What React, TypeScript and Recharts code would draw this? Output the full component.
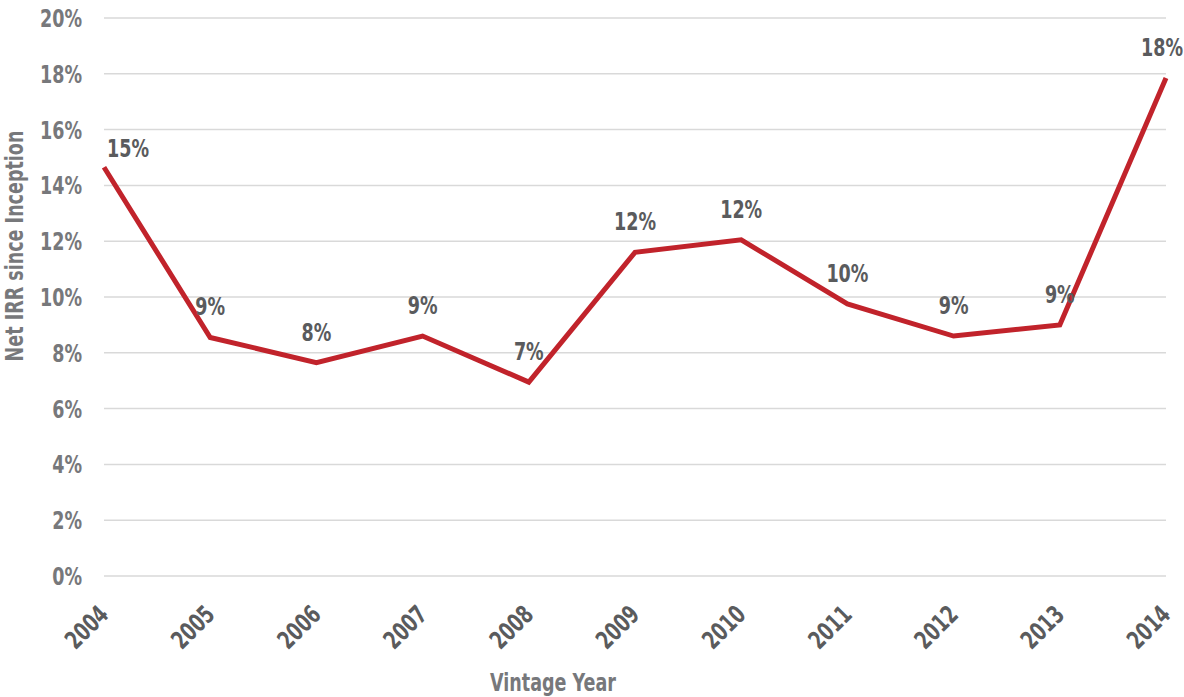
import React from 'react';
import { LineChart, Line, XAxis, YAxis, CartesianGrid, LabelList } from 'recharts';

const years = ['2004', '2005', '2006', '2007', '2008', '2009', '2010', '2011', '2012', '2013', '2014'];
const netIrr = [14.65, 8.55, 7.65, 8.6, 6.95, 11.6, 12.05, 9.75, 8.6, 9.0, 17.85];
const yTicks = [0, 2, 4, 6, 8, 10, 12, 14, 16, 18, 20];

const FONT = '"DejaVu Sans Condensed", "Liberation Sans Narrow", sans-serif';
const GREY = '#77787b';
const DARK = '#5a5b5d';
const RED = '#c1232b';
const SQUEEZE = 0.78;

const chartData = years.map((year, i) => ({ year, irr: netIrr[i] }));

// condensed bold text: the heavy narrow face of the original isn't installed, so squeeze DejaVu
const Squeezed = ({ x, y, angle = 0, anchor = 'middle', fill = GREY, children }: any) => (
  <text
    x={0}
    y={0}
    transform={`translate(${x} ${y}) rotate(${angle}) scale(${SQUEEZE} 1)`}
    textAnchor={anchor}
    fill={fill}
    fontFamily={FONT}
    fontWeight="bold"
    fontSize={25}
  >
    {children}
  </text>
);

const XTick = (props: any) => {
  const { x, y, payload } = props;
  return (
    <Squeezed x={x + 6} y={y + 32} angle={-45} anchor="end" fill={DARK}>
      {payload.value}
    </Squeezed>
  );
};

const YTick = (props: any) => {
  const { x, y, payload } = props;
  return (
    <Squeezed x={x} y={y + 9} anchor="end">
      {payload.value}%
    </Squeezed>
  );
};

const PointLabel = (props: any) => {
  const { x, y, value, index } = props;
  const first = index === 0;
  const last = index === years.length - 1;
  // edge labels are nudged inward so they stay on the canvas
  const dx = first ? 24 : last ? -4 : 0;
  return (
    <Squeezed x={x + dx} y={y - (first ? 10 : 22)} fill={DARK}>
      {Math.round(value)}%
    </Squeezed>
  );
};

const App: React.FC = () => {
  return (
    <div style={{ position: 'absolute', left: 0, top: 0, width: 1184, height: 697, background: '#fff' }}>
      <LineChart
        width={1184}
        height={697}
        data={chartData}
        margin={{ top: 18, right: 18, left: 0, bottom: 0 }}
      >
        <CartesianGrid vertical={false} stroke="#d9d9d9" strokeWidth={1.5} />
        <XAxis
          dataKey="year"
          axisLine={false}
          tickLine={false}
          height={121}
          interval={0}
          tick={<XTick />}
          label={{
            content: () => (
              <Squeezed x={553} y={691}>
                Vintage Year
              </Squeezed>
            ),
          }}
        />
        <YAxis
          domain={[0, 20]}
          ticks={yTicks}
          interval={0}
          width={104}
          axisLine={false}
          tickLine={false}
          tickMargin={16}
          tick={<YTick />}
          label={{
            content: () => (
              <Squeezed x={23} y={246} angle={-90}>
                Net IRR since Inception
              </Squeezed>
            ),
          }}
        />
        <Line
          type="linear"
          dataKey="irr"
          stroke={RED}
          strokeWidth={5}
          dot={false}
          activeDot={false}
          isAnimationActive={false}
        >
          <LabelList dataKey="irr" content={<PointLabel />} />
        </Line>
      </LineChart>
    </div>
  );
};

export default App;
